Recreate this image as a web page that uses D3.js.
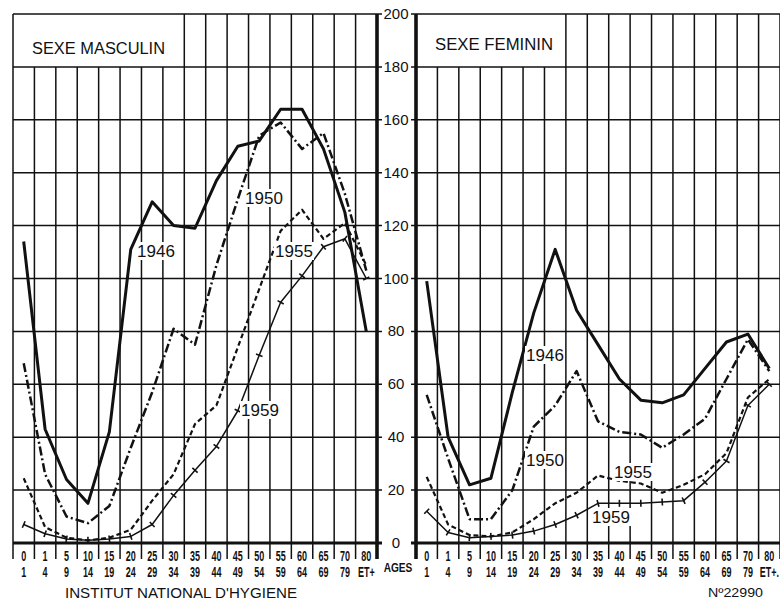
<!DOCTYPE html>
<html>
<head>
<meta charset="utf-8">
<script src="https://cdn.jsdelivr.net/npm/d3@7"></script>
<style>
  html, body { margin: 0; padding: 0; background: #fff; }
  svg { display: block; }
</style>
</head>
<body>
<div id="chart"></div>
<script>
// age groups (two-line tick labels)
var ageFrom = ["0", "1", "5", "10", "15", "20", "25", "30", "35", "40", "45", "50", "55", "60", "65", "70", "80"];
var ageTo = ["1", "4", "9", "14", "19", "24", "29", "34", "39", "44", "49", "54", "59", "64", "69", "79", "ET+"];
var years = ["1946", "1950", "1955", "1959"];

// rates, one value per age group
var male1946 = [114, 43, 24, 15, 42, 111, 129, 120, 119, 137, 150, 152, 164, 164, 149, 125, 80];
var male1950 = [68, 26, 10, 7.5, 14, 36, 57, 81, 75, 105, 130, 154, 159, 149, 155, 132, 103];
var male1955 = [24.5, 6, 2, 1, 2, 5, 16, 26, 45, 52, 74, 96, 118, 126, 115, 121, 105];
var male1959 = [7, 3.5, 1.5, 1, 1.5, 2.5, 7, 18, 27.5, 36.5, 50, 71, 91, 101, 112, 115, 100];

var female1946 = [99, 40, 22, 24.5, 57, 87, 111, 88, 75, 62, 54, 53, 56, 66, 76, 79, 66];
var female1950 = [56, 32, 9, 9, 20, 44, 52, 65, 46, 42, 41, 36, 41, 47, 62, 77, 65];
var female1955 = [25, 7, 3, 2.5, 4, 9, 15, 19, 25.5, 23.5, 22.5, 19, 22, 26, 34, 55, 62];
var female1959 = [12, 4, 2, 2.5, 3, 4.5, 7, 10.5, 15, 15, 15, 15.5, 16, 23, 31, 52, 60];

var yTicks = [0, 20, 40, 60, 80, 100, 120, 140, 160, 180, 200];

var width = 780, height = 603;
var svg = d3.select("#chart").append("svg")
    .attr("width", width)
    .attr("height", height);

var y = d3.scaleLinear().domain([0, 200]).range([543, 14]);

// line styles per year
var styles = {
    "1946": {w: 3, dash: null},
    "1950": {w: 2.5, dash: "9,3,2,3"},
    "1955": {w: 2.2, dash: "5,3"},
    "1959": {w: 1.5, dash: null}
};

var panels = [
    {title: "SEXE MASCULIN", titleX: 32, titleY: 54, titleLen: 133,
     x0: 13, x1: 377, boxCols: 8, axisSide: "right", lastLabel: "ET+",
     series: [male1946, male1950, male1955, male1959],
     labelPos: [[156, 251], [264, 198], [294, 251], [260, 410]]},
    {title: "SEXE FEMININ", titleX: 435, titleY: 50, titleLen: 118,
     x0: 416, x1: 780, boxCols: 7, axisSide: "left", lastLabel: "ET+.",
     series: [female1946, female1950, female1955, female1959],
     labelPos: [[545, 355], [545, 460], [633, 472], [611, 517]]}
];

panels.forEach(function(p) {
    var x = d3.scaleBand().domain(d3.range(ageFrom.length)).range([p.x0, p.x1]);
    var g = svg.append("g");
    var bounds = d3.range(ageFrom.length + 1).map(function(i) {
        return i < ageFrom.length ? x(i) : p.x1;
    });

    // horizontal grid
    var gx0 = p.axisSide == "left" ? p.x0 - 5 : p.x0;
    var gx1 = p.axisSide == "right" ? p.x1 + 5 : p.x1;
    g.selectAll(".hgrid").data(yTicks).enter().append("line")
        .attr("x1", gx0).attr("x2", gx1)
        .attr("y1", function(d) { return y(d); })
        .attr("y2", function(d) { return y(d); })
        .attr("stroke", "#111")
        .attr("stroke-width", function(d) { return d == 0 ? 3.2 : 1.5; });

    // vertical grid (columns), interrupted by the title box
    g.selectAll(".vgrid").data(bounds).enter().append("line")
        .attr("x1", function(d) { return d; })
        .attr("x2", function(d) { return d; })
        .attr("y1", function(d, i) {
            return (i > 0 && i < p.boxCols) ? y(180) : y(200);
        })
        .attr("y2", 559)
        .attr("stroke", "#111")
        .attr("stroke-width", function(d, i) {
            var isAxis = (p.axisSide == "right" && i == bounds.length - 1) ||
                         (p.axisSide == "left" && i == 0);
            return isAxis ? 3.6 : 1.5;
        });

    // title
    g.append("text")
        .attr("x", p.titleX).attr("y", p.titleY)
        .attr("textLength", p.titleLen)
        .attr("lengthAdjust", "spacingAndGlyphs")
        .style("font-family", "Liberation Sans, Arial, sans-serif")
        .style("font-size", "16px")
        .attr("fill", "#111")
        .text(p.title);

    // age tick labels, narrow lettering
    var rows = [ageFrom, ageTo.slice(0, -1).concat([p.lastLabel])];
    rows.forEach(function(row, r) {
        g.selectAll(".age" + r).data(row).enter().append("g")
            .attr("transform", function(d, i) {
                return "translate(" + (x(i) + x.bandwidth() / 2) + "," + (r == 0 ? 561 : 577) + ")";
            })
            .append("text")
            .attr("transform", "scale(0.6,1)")
            .attr("text-anchor", "middle")
            .style("font-family", "Liberation Sans, Arial, sans-serif")
            .style("font-size", "15px")
            .style("font-weight", "bold")
            .attr("fill", "#111")
            .text(function(d) { return d; });
    });

    // curves
    var line = d3.line()
        .x(function(d, i) { return x(i) + x.bandwidth() / 2; })
        .y(function(d) { return y(d); });

    p.series.forEach(function(vals, s) {
        var st = styles[years[s]];
        g.append("path")
            .datum(vals)
            .attr("d", line)
            .attr("fill", "none")
            .attr("stroke", "#111")
            .attr("stroke-width", st.w)
            .attr("stroke-linejoin", "round")
            .attr("stroke-dasharray", st.dash);

        if (years[s] == "1959") {
            // small cross ticks on each point
            g.selectAll(".tick" + s).data(vals).enter().append("line")
                .each(function(d, i) {
                    var px = x(i) + x.bandwidth() / 2, py = y(d);
                    var a = vals[Math.max(0, i - 1)], b = vals[Math.min(vals.length - 1, i + 1)];
                    var dx = (i == 0 || i == vals.length - 1) ? x.bandwidth() : 2 * x.bandwidth();
                    var dy = y(b) - y(a);
                    var len = Math.sqrt(dx * dx + dy * dy);
                    var nx = -dy / len * 3.5, ny = dx / len * 3.5;
                    d3.select(this)
                        .attr("x1", px - nx).attr("y1", py - ny)
                        .attr("x2", px + nx).attr("y2", py + ny);
                })
                .attr("stroke", "#111")
                .attr("stroke-width", 1.6);
        }
    });

    // year labels on white patches
    p.labelPos.forEach(function(pos, s) {
        g.append("rect")
            .attr("x", pos[0] - 20).attr("y", pos[1] - 9)
            .attr("width", 40).attr("height", 18)
            .attr("fill", "#fff");
        g.append("text")
            .attr("x", pos[0]).attr("y", pos[1] + 6)
            .attr("text-anchor", "middle")
            .style("font-family", "Liberation Sans, Arial, sans-serif")
            .style("font-size", "17px")
            .attr("fill", "#111")
            .text(years[s]);
    });
});

// shared y labels between the two panels
svg.selectAll(".ylab").data(yTicks).enter().append("text")
    .attr("x", 396)
    .attr("y", function(d) { return y(d) + 5; })
    .attr("text-anchor", "middle")
    .style("font-family", "Liberation Sans, Arial, sans-serif")
    .style("font-size", "15px")
    .attr("fill", "#111")
    .text(function(d) { return d; });

svg.append("g")
    .attr("transform", "translate(398,572)")
    .append("text")
    .attr("transform", "scale(0.78,1)")
    .attr("text-anchor", "middle")
    .style("font-family", "Liberation Sans, Arial, sans-serif")
    .style("font-size", "13px")
    .style("font-weight", "bold")
    .attr("fill", "#111")
    .text("AGES");

svg.append("text")
    .attr("x", 65).attr("y", 598)
    .attr("textLength", 232)
    .attr("lengthAdjust", "spacingAndGlyphs")
    .style("font-family", "Liberation Sans, Arial, sans-serif")
    .style("font-size", "14px")
    .attr("fill", "#111")
    .text("INSTITUT NATIONAL D'HYGIENE");

svg.append("text")
    .attr("x", 708).attr("y", 597)
    .attr("textLength", 55)
    .attr("lengthAdjust", "spacingAndGlyphs")
    .style("font-family", "Liberation Sans, Arial, sans-serif")
    .style("font-size", "13px")
    .attr("fill", "#111")
    .text("Nº22990");
</script>
</body>
</html>
